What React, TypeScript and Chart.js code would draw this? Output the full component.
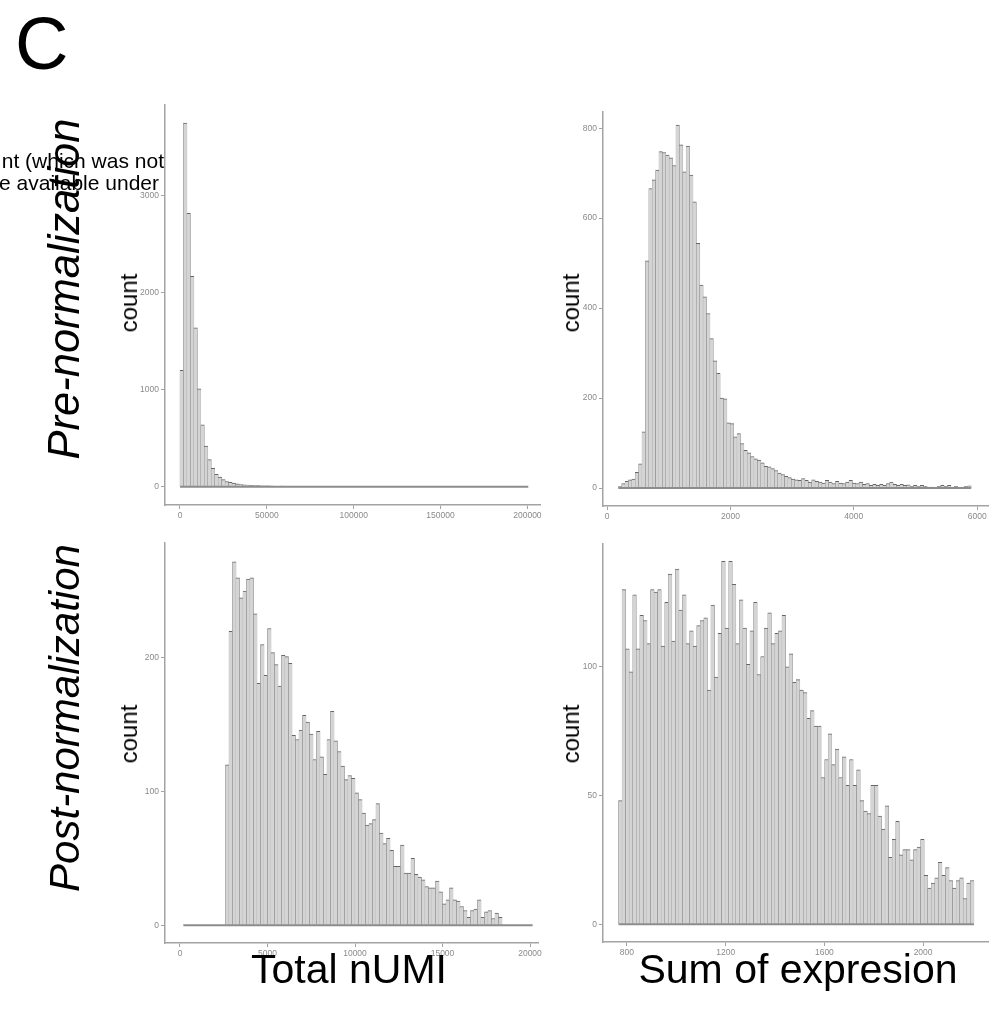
import React, { useEffect, useRef } from "react";
import { Chart, registerables } from "chart.js";

Chart.register(...registerables);

const FONT = "'Liberation Sans', Arial, Helvetica, sans-serif";

// ---------- Pre-normalization : Total nUMI ----------
const preUmiBinStart = 0;
const preUmiBinWidth = 2000;
const preUmiCounts = [1200, 3750, 2820, 2170, 1640, 1010, 640, 420, 280, 190, 130, 100, 75, 55, 45, 38, 30, 24, 21, 18, 15, 13, 12, 10, 11, 9, 8, 6, 2, 7];
const preUmiRange = [0, 200500];
const preUmiXTicks = [0, 50000, 100000, 150000, 200000];
const preUmiYTicks = [0, 1000, 2000, 3000];

// ---------- Pre-normalization : Sum of expression ----------
const preExprBinStart = 183;
const preExprBinWidth = 55;
const preExprCounts = [3, 10, 15, 18, 20, 35, 54, 125, 505, 666, 685, 707, 748, 746, 740, 734, 717, 807, 763, 703, 760, 696, 636, 544, 451, 425, 388, 332, 283, 255, 200, 198, 145, 143, 114, 121, 99, 84, 78, 70, 65, 62, 56, 48, 47, 43, 39, 33, 30, 26, 23, 20, 18, 17, 21, 17, 13, 18, 15, 13, 11, 17, 13, 10, 15, 11, 10, 13, 17, 11, 10, 13, 8, 10, 6, 8, 6, 8, 6, 10, 13, 8, 6, 8, 6, 7, 4, 6, 4, 6, 4, 2, 2, 1, 4, 6, 4, 6, 2, 4, 1, 2, 4, 5];
const preExprRange = [183, 5903];
const preExprXTicks = [0, 2000, 4000, 6000];
const preExprYTicks = [0, 200, 400, 600, 800];

// ---------- Post-normalization : Total nUMI ----------
const postUmiBinStart = 2600;
const postUmiBinWidth = 200;
const postUmiCounts = [120, 220, 272, 260, 245, 250, 259, 260, 233, 181, 210, 187, 222, 204, 195, 179, 202, 201, 196, 142, 139, 146, 157, 152, 143, 124, 145, 126, 113, 139, 160, 138, 130, 119, 109, 112, 110, 99, 94, 84, 75, 76, 79, 91, 69, 61, 65, 56, 44, 44, 60, 39, 39, 50, 38, 36, 34, 29, 28, 28, 33, 25, 16, 19, 28, 19, 18, 14, 11, 6, 11, 12, 19, 6, 10, 11, 5, 9, 6];
const postUmiRange = [190, 20150];
const postUmiXTicks = [0, 5000, 10000, 15000, 20000];
const postUmiYTicks = [0, 100, 200];

// ---------- Post-normalization : Sum of expression ----------
const postExprBinStart = 766;
const postExprBinWidth = 14.4;
const postExprCounts = [48, 130, 107, 98, 128, 107, 120, 118, 109, 130, 129, 130, 108, 125, 136, 110, 138, 122, 128, 109, 114, 108, 116, 118, 119, 91, 124, 96, 113, 141, 115, 141, 132, 109, 126, 115, 101, 114, 125, 97, 104, 115, 121, 109, 113, 114, 120, 100, 105, 94, 95, 91, 90, 80, 83, 77, 77, 57, 64, 74, 62, 68, 57, 65, 54, 64, 54, 60, 48, 44, 43, 54, 54, 42, 37, 46, 26, 33, 40, 27, 29, 29, 25, 29, 30, 33, 19, 14, 16, 18, 24, 19, 22, 17, 14, 17, 18, 10, 16, 17];
const postExprRange = [766, 2206];
const postExprXTicks = [800, 1200, 1600, 2000];
const postExprYTicks = [0, 50, 100];

type Box = { left: number; right: number; top: number; bottom: number };

const Y_AXIS_W = 45;
const X_AXIS_H = 25;
const PAD_TOP = 10;
const PAD_RIGHT = 15;

type HistProps = {
  counts: number[];
  binStart: number;
  binWidth: number;
  range: number[];
  xTicks: number[];
  yTicks: number[];
  xMin: number;
  xMax: number;
  yMin: number;
  yMax: number;
  box: Box;
};

function Hist(p: HistProps) {
  const ref = useRef<HTMLCanvasElement | null>(null);
  const w = p.box.right - p.box.left + Y_AXIS_W + PAD_RIGHT;
  const h = p.box.bottom - p.box.top + PAD_TOP + X_AXIS_H;

  useEffect(() => {
    if (!ref.current) return;
    const bars = p.counts.map((c, i) => ({ x: p.binStart + p.binWidth * (i + 0.5), y: c }));
    const base = p.range.map((x) => ({ x, y: 0 }));
    const axisColor = "#a3a3a3";
    const tickFont = { size: 8.5, family: FONT };
    const chart = new Chart(ref.current, {
      type: "bar",
      data: {
        datasets: [
          {
            type: "bar",
            data: bars as any,
            backgroundColor: "#d4d4d4",
            borderColor: "#666666",
            borderWidth: { top: 1, left: 0.3, right: 0.3, bottom: 0 } as any,
            borderSkipped: "start",
            barPercentage: 1,
            categoryPercentage: 1,
            order: 2,
          } as any,
          {
            type: "line",
            data: base as any,
            borderColor: "#8c8c8c",
            borderWidth: 2,
            pointRadius: 0,
            fill: false,
            order: 1,
          } as any,
        ],
      },
      options: {
        animation: false,
        responsive: false,
        events: [],
        layout: { padding: { top: PAD_TOP, right: PAD_RIGHT, left: 0, bottom: 0 } },
        plugins: {
          legend: { display: false },
          tooltip: { enabled: false },
          title: { display: false },
        },
        scales: {
          x: {
            type: "linear",
            min: p.xMin,
            max: p.xMax,
            offset: false,
            grid: {
              display: true,
              drawOnChartArea: false,
              drawTicks: true,
              tickLength: 4,
              color: axisColor,
              lineWidth: 1,
              offset: false,
            },
            border: { display: true, color: axisColor, width: 1.5 },
            ticks: {
              font: tickFont,
              color: "#8a8a8a",
              padding: 2,
              maxRotation: 0,
              autoSkip: false,
              callback: (v: any) => String(v),
            },
            afterBuildTicks: (axis: any) => {
              axis.ticks = p.xTicks.map((v) => ({ value: v }));
            },
            afterFit: (axis: any) => {
              axis.height = X_AXIS_H;
            },
          },
          y: {
            type: "linear",
            min: p.yMin,
            max: p.yMax,
            grid: {
              display: true,
              drawOnChartArea: false,
              drawTicks: true,
              tickLength: 4,
              color: axisColor,
              lineWidth: 1,
            },
            border: { display: true, color: axisColor, width: 1.5 },
            ticks: {
              font: tickFont,
              color: "#8a8a8a",
              padding: 2,
              autoSkip: false,
              callback: (v: any) => String(v),
            },
            afterBuildTicks: (axis: any) => {
              axis.ticks = p.yTicks.map((v) => ({ value: v }));
            },
            afterFit: (axis: any) => {
              axis.width = Y_AXIS_W;
            },
          },
        },
      } as any,
    });
    return () => chart.destroy();
  }, []);

  return (
    <div
      style={{
        position: "absolute",
        left: p.box.left - Y_AXIS_W,
        top: p.box.top - PAD_TOP,
        width: w,
        height: h,
      }}
    >
      <canvas ref={ref} width={w} height={h} style={{ width: w, height: h, display: "block" }} />
    </div>
  );
}

const textBase: React.CSSProperties = {
  position: "absolute",
  fontFamily: FONT,
  color: "#000",
  lineHeight: 1,
  whiteSpace: "nowrap",
};

function Rot({ text, cx, cy, size, italic }: { text: string; cx: number; cy: number; size: number; italic?: boolean }) {
  return (
    <div
      style={{
        ...textBase,
        left: cx,
        top: cy,
        fontSize: size,
        fontStyle: italic ? "italic" : "normal",
        transform: "translate(-50%, -50%) rotate(-90deg)",
      }}
    >
      {text}
    </div>
  );
}

export default function App() {
  return (
    <div
      style={{
        position: "absolute",
        left: 0,
        top: 0,
        width: 1001,
        height: 1013,
        overflow: "hidden",
        background: "#fff",
      }}
    >
      <Hist
        counts={preUmiCounts}
        binStart={preUmiBinStart}
        binWidth={preUmiBinWidth}
        range={preUmiRange}
        xTicks={preUmiXTicks}
        yTicks={preUmiYTicks}
        xMin={-8635}
        xMax={207250}
        yMin={-187.5}
        yMax={3937.5}
        box={{ left: 165, right: 540, top: 105, bottom: 505 }}
      />
      <Hist
        counts={preExprCounts}
        binStart={preExprBinStart}
        binWidth={preExprBinWidth}
        range={preExprRange}
        xTicks={preExprXTicks}
        yTicks={preExprYTicks}
        xMin={-65}
        xMax={6175}
        yMin={-40}
        yMax={836}
        box={{ left: 603, right: 988, top: 112, bottom: 506 }}
      />
      <Hist
        counts={postUmiCounts}
        binStart={postUmiBinStart}
        binWidth={postUmiBinWidth}
        range={postUmiRange}
        xTicks={postUmiXTicks}
        yTicks={postUmiYTicks}
        xMin={-857}
        xMax={20457}
        yMin={-13.3}
        yMax={286}
        box={{ left: 165, right: 538, top: 543, bottom: 943 }}
      />
      <Hist
        counts={postExprCounts}
        binStart={postExprBinStart}
        binWidth={postExprBinWidth}
        range={postExprRange}
        xTicks={postExprXTicks}
        yTicks={postExprYTicks}
        xMin={703}
        xMax={2263}
        yMin={-6.9}
        yMax={147.7}
        box={{ left: 603, right: 988, top: 544, bottom: 942 }}
      />

      <div style={{ ...textBase, left: 15, top: 7, fontSize: 74 }}>C</div>

      <div style={{ ...textBase, right: 1001 - 164, top: 150, fontSize: 21 }}>nt (which was not</div>
      <div style={{ ...textBase, right: 1001 - 159, top: 172, fontSize: 21 }}>e available under</div>

      <Rot text="Pre-normalization" cx={65} cy={289} size={43.5} italic />
      <Rot text="Post-normalization" cx={65} cy={718} size={42} italic />

      <Rot text="count" cx={129} cy={303} size={24} />
      <Rot text="count" cx={571} cy={303} size={24} />
      <Rot text="count" cx={129} cy={734} size={24} />
      <Rot text="count" cx={571} cy={734} size={24} />

      <div style={{ ...textBase, left: 349, top: 949, fontSize: 41, transform: "translateX(-50%)" }}>Total nUMI</div>
      <div style={{ ...textBase, left: 798, top: 949, fontSize: 41, transform: "translateX(-50%)" }}>Sum of expresion</div>
    </div>
  );
}
